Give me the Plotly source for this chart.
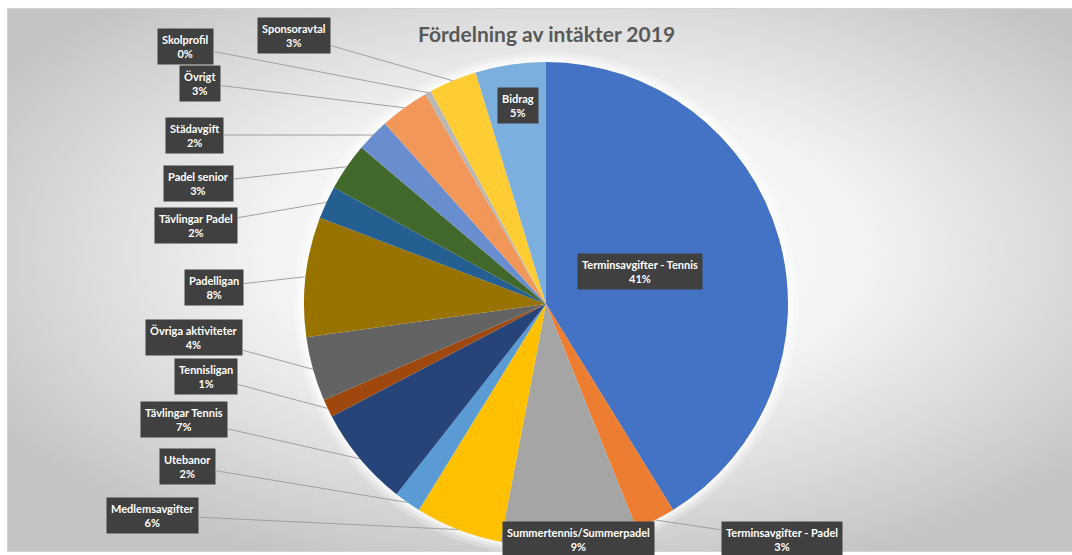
import base64
import math
import plotly.graph_objects as go

# ---- data ----
categories = [
    "Terminsavgifter - Tennis", "Terminsavgifter - Padel", "Summertennis/Summerpadel",
    "Medlemsavgifter", "Utebanor", "Tävlingar Tennis", "Tennisligan",
    "Övriga aktiviteter", "Padelligan", "Tävlingar Padel", "Padel senior",
    "Städavgift", "Övrigt", "Skolprofil", "Sponsoravtal", "Bidrag",
]
shares = [41.2, 2.7, 9.1, 5.8, 1.8, 6.7, 1.2, 4.3, 8.0, 2.2, 3.2, 2.2, 3.3, 0.4, 3.2, 4.7]
colors = [
    "#4472C4", "#ED7D31", "#A5A5A5", "#FFC000", "#5B9BD5", "#264478", "#9E480E",
    "#636363", "#997300", "#255E91", "#43682B", "#698ED0", "#F1975A", "#B7B7B7",
    "#FFCD33", "#7CAFDD",
]
title_text = "Fördelning av intäkter 2019"

# ---- layout constants (pixels) ----
W, H = 1072, 555
CX, CY, R = 546, 304, 242

# label box centres (layout positions); flag = draw leader line
label_pos = {
    "Terminsavgifter - Tennis": (640, 271, False),
    "Terminsavgifter - Padel": (782, 539, True),
    "Summertennis/Summerpadel": (578, 539, False),
    "Medlemsavgifter": (152, 515, True),
    "Utebanor": (187, 466, True),
    "Tävlingar Tennis": (184, 419, True),
    "Tennisligan": (206, 376, True),
    "Övriga aktiviteter": (194, 337, True),
    "Padelligan": (214, 287, True),
    "Tävlingar Padel": (196, 225, True),
    "Padel senior": (198, 183, True),
    "Städavgift": (194, 135, True),
    "Övrigt": (200, 83, True),
    "Skolprofil": (185, 46, True),
    "Sponsoravtal": (294, 35, True),
    "Bidrag": (518, 105, False),
}

# ---- background gradient image ----
svg = (
    f"<svg xmlns='http://www.w3.org/2000/svg' width='{W}' height='{H}' viewBox='0 0 {W} {H}'>"
    "<defs><radialGradient id='g' cx='0.52' cy='0.45' r='0.62'>"
    "<stop offset='0' stop-color='#ffffff'/>"
    "<stop offset='0.45' stop-color='#f3f3f3'/>"
    "<stop offset='1' stop-color='#c4c4c4'/>"
    "</radialGradient></defs>"
    f"<rect x='0' y='0' width='{W}' height='{H}' fill='#ffffff'/>"
    f"<rect x='7.5' y='8.5' width='{W}' height='543' fill='url(#g)' stroke='#d4d4d4' stroke-width='1'/>"
    "</svg>"
)
bg_uri = "data:image/svg+xml;base64," + base64.b64encode(svg.encode("utf-8")).decode("ascii")

fig = go.Figure()

# invisible cartesian trace to host a pixel coordinate system for labels
fig.add_trace(go.Scatter(x=[], y=[], showlegend=False, hoverinfo="skip"))

fig.add_trace(go.Pie(
    labels=categories,
    values=shares,
    sort=False,
    direction="clockwise",
    rotation=0,
    marker=dict(colors=colors, line=dict(width=0)),
    textinfo="none",
    hoverinfo="label+percent",
    showlegend=False,
    domain=dict(x=[(CX - R) / W, (CX + R) / W], y=[(H - CY - R) / H, (H - CY + R) / H]),
))

# glow around the pie
shapes = []
for extra, op in [(10, 0.25), (6, 0.35), (3, 0.5)]:
    shapes.append(dict(
        type="circle", xref="x", yref="y", layer="below",
        x0=CX - R - extra, x1=CX + R + extra, y0=CY - R - extra, y1=CY + R + extra,
        fillcolor="rgba(255,255,255,%.2f)" % op, line=dict(width=0),
    ))

# labels with leader lines, anchored at slice mid-angles computed from the data
total = sum(shares)
cum = 0.0
annotations = []
for cat, v in zip(categories, shares):
    mid = (cum + v / 2) / total * 2 * math.pi
    cum += v
    px = CX + R * math.sin(mid)
    py = CY - R * math.cos(mid)
    lx, ly, lead = label_pos[cat]
    pct = round(v / total * 100)
    text = f"{cat}<br>{pct}%"
    common = dict(
        text=text, xref="x", yref="y",
        font=dict(family="Lato", size=11, color="#ffffff", weight="bold"),
        bgcolor="#404040", borderpad=4, align="center",
    )
    if lead:
        annotations.append(dict(
            x=px, y=py, ax=lx, ay=ly, axref="x", ayref="y",
            showarrow=True, arrowhead=0, arrowwidth=1, arrowcolor="#a0a0a0",
            standoff=0, startstandoff=0, **common,
        ))
    else:
        annotations.append(dict(x=lx, y=ly, showarrow=False, **common))

annotations.append(dict(
    text=title_text, xref="x", yref="y", x=546, y=33, showarrow=False,
    font=dict(family="Lato", size=21, color="#595959", weight="bold"),
))

fig.update_layout(
    width=W, height=H,
    margin=dict(l=0, r=0, t=0, b=0),
    paper_bgcolor="#ffffff",
    plot_bgcolor="rgba(0,0,0,0)",
    xaxis=dict(range=[0, W], visible=False, fixedrange=True, domain=[0, 1]),
    yaxis=dict(range=[H, 0], visible=False, fixedrange=True, domain=[0, 1]),
    images=[dict(source=bg_uri, xref="paper", yref="paper", x=0, y=1,
                 sizex=1, sizey=1, sizing="stretch", layer="below",
                 xanchor="left", yanchor="top")],
    shapes=shapes,
    annotations=annotations,
    showlegend=False,
)

fig.write_html(
    "out.html",
    config={"displayModeBar": False},
    post_script="document.body.style.margin='0';document.body.style.overflow='hidden';",
)
